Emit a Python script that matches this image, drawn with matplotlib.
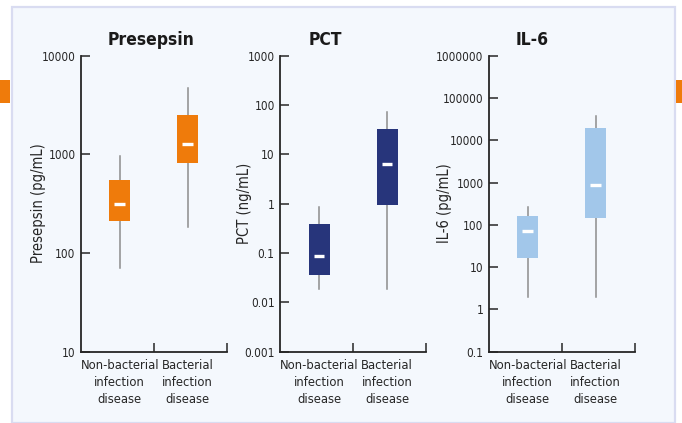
import matplotlib
matplotlib.use("Agg")
import matplotlib.pyplot as plt
from matplotlib.patches import Rectangle

plt.rcParams['font.family'] = ['DejaVu Sans']
plt.rcParams['font.stretch'] = 'condensed'

groups = ["Non-bacterial\ninfection\ndisease", "Bacterial\ninfection\ndisease"]

titles = ["Presepsin", "PCT", "IL-6"]
ylabels = ["Presepsin (pg/mL)", "PCT (ng/mL)", "IL-6 (pg/mL)"]
colors = ["#EF7B0B", "#27357B", "#A2C7EA"]

# whisker low, Q1, median, Q3, whisker high for each group
presepsin_low = [70, 185]
presepsin_q1 = [211, 817]
presepsin_med = [311, 1263]
presepsin_q3 = [550, 2505]
presepsin_high = [969, 4665]

pct_low = [0.019, 0.019]
pct_q1 = [0.036, 0.955]
pct_med = [0.086, 6.47]
pct_q3 = [0.387, 32.1]
pct_high = [0.87, 73.3]

il6_low = [1.96, 1.96]
il6_q1 = [16.4, 145]
il6_med = [72.7, 858]
il6_q3 = [161.5, 19100]
il6_high = [259, 37400]

yticks = [
    [10, 100, 1000, 10000],
    [0.001, 0.01, 0.1, 1, 10, 100, 1000],
    [0.1, 1, 10, 100, 1000, 10000, 100000, 1000000],
]
ytick_labels = [
    ["10", "100", "1000", "10000"],
    ["0.001", "0.01", "0.1", "1", "10", "100", "1000"],
    ["0.1", "1", "10", "100", "1000", "10000", "100000", "1000000"],
]

series = [
    (presepsin_low, presepsin_q1, presepsin_med, presepsin_q3, presepsin_high),
    (pct_low, pct_q1, pct_med, pct_q3, pct_high),
    (il6_low, il6_q1, il6_med, il6_q3, il6_high),
]

W, H = 682, 423
fig = plt.figure(figsize=(W / 100, H / 100), dpi=100)
fig.patch.set_facecolor("white")

# light panel behind the charts, plus the orange side tabs
fig.patches.append(Rectangle((11.5 / W, 0), (675 - 11.5) / W, (H - 7) / H,
                             transform=fig.transFigure, facecolor="#F4F8FD",
                             edgecolor="#D9DCF1", linewidth=1.6, zorder=-5))
fig.patches.append(Rectangle((0, (H - 103) / H), 10 / W, 23 / H,
                             transform=fig.transFigure, facecolor="#EF7B0B",
                             edgecolor="none", zorder=-5))
fig.patches.append(Rectangle((676 / W, (H - 103) / H), 6 / W, 23 / H,
                             transform=fig.transFigure, facecolor="#EF7B0B",
                             edgecolor="none", zorder=-5))

axes_left = [81, 280.3, 489]
axes_width = 145.5
ax_top, ax_bottom = 55.7, 351.7
title_x = [151, 325, 532]
ylabel_x = [38, 244, 444]

ink = "#262626"
xmin, xmax = -0.57, 1.57

for i in range(3):
    ax = fig.add_axes([axes_left[i] / W, (H - ax_bottom) / H,
                       axes_width / W, (ax_bottom - ax_top) / H])
    ax.set_facecolor("none")
    low, q1, med, q3, high = series[i]
    stats = [dict(whislo=low[k], q1=q1[k], med=med[k], q3=q3[k],
                  whishi=high[k], fliers=[]) for k in range(2)]
    out = ax.bxp(stats, positions=[0, 1], widths=0.31, patch_artist=True,
                 showcaps=False, showfliers=False,
                 boxprops=dict(facecolor=colors[i], edgecolor="none", zorder=3),
                 whiskerprops=dict(color="#8C8C8C", linewidth=1.1, zorder=2),
                 medianprops=dict(color="white", linewidth=2.4, zorder=4,
                                  solid_capstyle="butt"))
    # shorten the median bars to sit inside the box
    for line in out["medians"]:
        xd = line.get_xdata()
        c = (xd[0] + xd[1]) / 2
        line.set_xdata([c - 0.08, c + 0.08])

    ax.set_yscale("log")
    ax.set_ylim(yticks[i][0], yticks[i][-1])
    ax.set_xlim(xmin, xmax)
    ax.set_yticks(yticks[i])
    ax.set_yticklabels(ytick_labels[i])
    ax.minorticks_off()
    ax.tick_params(axis="y", direction="in", length=6.5, width=1.1,
                   color=ink, labelcolor=ink, labelsize=8.5, pad=4)

    ax.set_xticks([0, 1])
    ax.set_xticklabels(groups, linespacing=1.4)
    ax.tick_params(axis="x", which="major", length=0, labelsize=9.3,
                   labelcolor=ink, pad=5)
    ax.set_xticks([0.5, xmax], minor=True)
    ax.tick_params(axis="x", which="minor", direction="in", length=6.5,
                   width=1.1, color=ink)

    for side in ("top", "right"):
        ax.spines[side].set_visible(False)
    for side in ("left", "bottom"):
        ax.spines[side].set_color(ink)
        ax.spines[side].set_linewidth(1.3)

    fig.text(ylabel_x[i] / W, (H - 203) / H, ylabels[i], rotation=90,
             ha="center", va="center", fontsize=10.5, color=ink)
    fig.text(title_x[i] / W, (H - 40) / H, titles[i], ha="center",
             va="center", fontsize=12.5, fontweight="bold", color="#1A1A1A")

fig.savefig("out.png", dpi=100, facecolor="white")
